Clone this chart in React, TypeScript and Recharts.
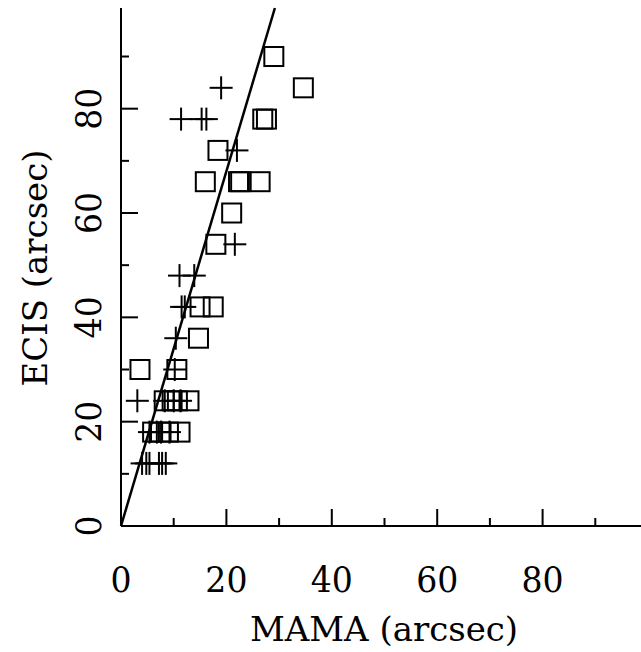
import React from 'react'
import { ScatterChart, Scatter, XAxis, YAxis, ReferenceLine } from 'recharts'

// MAMA vs ECIS offsets (arcsec)
const squareMama = [3.6, 10.6, 8.2, 9.7, 10.7, 12.9, 6.0, 7.5, 9.0, 11.2, 14.7, 15.0, 17.5, 18.0, 21.0, 16.0, 22.3, 22.7, 26.4, 18.4, 26.9, 27.6, 34.6, 29.0]
const squareEcis = [30, 30, 24, 24, 24, 24, 18, 18, 18, 18, 36, 42, 42, 54, 60, 66, 66, 66, 66, 72, 78, 78, 84, 90]

const crossMama = [19.0, 11.4, 15.3, 16.2, 22.0, 21.6, 11.1, 13.9, 11.5, 12.1, 10.4, 10.2, 3.1, 8.3, 10.0, 11.3, 5.4, 6.8, 7.6, 9.2, 4.0, 4.8, 5.4, 7.2, 7.8, 8.5]
const crossEcis = [84, 78, 78, 78, 72, 54, 48, 48, 42, 42, 36, 30, 24, 24, 24, 24, 18, 18, 18, 18, 12, 12, 12, 12, 12, 12]

// fitted line endpoints
const lineMama = [0, 29.2]
const lineEcis = [0, 99.3]

const xTicks = [0, 10, 20, 30, 40, 50, 60, 70, 80, 90, 100]
const yTicks = [0, 10, 20, 30, 40, 50, 60, 70, 80, 90]

const squares = squareMama.map((x, i) => ({ x, y: squareEcis[i] }))
const crosses = crossMama.map((x, i) => ({ x, y: crossEcis[i] }))

const FONT = '"DejaVu Serif", serif'
const MAJOR = 17
const MINOR = 8

const Square = (props: any) => {
  const { cx, cy } = props
  return <rect x={cx - 9.5} y={cy - 9.5} width={19} height={19} fill="none" stroke="#000" strokeWidth={2} />
}

const Cross = (props: any) => {
  const { cx, cy } = props
  return (
    <g stroke="#000" strokeWidth={2}>
      <line x1={cx - 11.5} y1={cy} x2={cx + 11.5} y2={cy} />
      <line x1={cx} y1={cy - 11.5} x2={cx} y2={cy + 11.5} />
    </g>
  )
}

const Txt = ({ x, y, rotate, children }: any) => (
  <text
    transform={`translate(${x},${y})${rotate ? ' rotate(-90)' : ''} scale(0.92,1)`}
    textAnchor="middle"
    dominantBaseline="central"
    fontFamily={FONT}
    fontSize={36}
    fill="#000"
  >
    {children}
  </text>
)

const BottomTick = ({ x, y, payload }: any) => {
  const v = payload.value
  const major = v % 20 === 0
  return (
    <g>
      <line x1={x} y1={y} x2={x} y2={y - (major ? MAJOR : MINOR)} stroke="#000" strokeWidth={2} />
      {major && v < 100 && <Txt x={x} y={y + 54}>{v}</Txt>}
    </g>
  )
}

const TopTick = ({ x, y, payload }: any) => {
  const major = payload.value % 20 === 0
  return <line x1={x} y1={y} x2={x} y2={y + (major ? MAJOR : MINOR)} stroke="#000" strokeWidth={2} />
}

const LeftTick = ({ x, y, payload }: any) => {
  const v = payload.value
  const major = v % 20 === 0
  return (
    <g>
      <line x1={x} y1={y} x2={x + (major ? MAJOR : MINOR)} y2={y} stroke="#000" strokeWidth={2} />
      {major && <Txt x={x - 32} y={y} rotate>{v}</Txt>}
    </g>
  )
}

const RightTick = ({ x, y, payload }: any) => {
  const major = payload.value % 20 === 0
  return <line x1={x} y1={y} x2={x - (major ? MAJOR : MINOR)} y2={y} stroke="#000" strokeWidth={2} />
}

export default function App() {
  return (
    <div style={{ position: 'absolute', left: 0, top: 0, width: 641, height: 652, overflow: 'hidden', background: '#fff' }}>
      <ScatterChart width={660} height={652} margin={{ top: 8, right: 12, bottom: 0, left: 0 }}>
        <XAxis
          xAxisId="b"
          type="number"
          dataKey="x"
          domain={[0, 100]}
          ticks={xTicks}
          interval={0}
          tickSize={0}
          tickMargin={0}
          height={126}
          tick={<BottomTick />}
          axisLine={{ stroke: '#000', strokeWidth: 2 }}
          tickLine={false}
        />
        <XAxis
          xAxisId="t"
          orientation="top"
          type="number"
          dataKey="x"
          domain={[0, 100]}
          ticks={xTicks}
          interval={0}
          tickSize={0}
          tickMargin={0}
          height={0}
          tick={<TopTick />}
          axisLine={{ stroke: '#000', strokeWidth: 2 }}
          tickLine={false}
        />
        <YAxis
          yAxisId="l"
          type="number"
          dataKey="y"
          domain={[0, 99.3]}
          ticks={yTicks}
          interval={0}
          tickSize={0}
          tickMargin={0}
          width={121}
          tick={<LeftTick />}
          axisLine={{ stroke: '#000', strokeWidth: 2 }}
          tickLine={false}
        />
        <YAxis
          yAxisId="r"
          orientation="right"
          type="number"
          dataKey="y"
          domain={[0, 99.3]}
          ticks={yTicks}
          interval={0}
          tickSize={0}
          tickMargin={0}
          width={0}
          tick={<RightTick />}
          axisLine={{ stroke: '#000', strokeWidth: 2 }}
          tickLine={false}
        />
        <ReferenceLine
          xAxisId="b"
          yAxisId="l"
          segment={[{ x: lineMama[0], y: lineEcis[0] }, { x: lineMama[1], y: lineEcis[1] }]}
          stroke="#000"
          strokeWidth={2.5}
          ifOverflow="extendDomain"
        />
        <Scatter xAxisId="b" yAxisId="l" data={squares} shape={<Square />} isAnimationActive={false} />
        <Scatter xAxisId="b" yAxisId="l" data={crosses} shape={<Cross />} isAnimationActive={false} />
        <text
          transform="translate(35,268) rotate(-90)"
          textAnchor="middle"
          dominantBaseline="central"
          fontFamily={FONT}
          fontSize={34}
          fill="#000"
        >
          ECIS (arcsec)
        </text>
        <text x={384} y={641} textAnchor="middle" fontFamily={FONT} fontSize={34} fill="#000">
          MAMA (arcsec)
        </text>
      </ScatterChart>
    </div>
  )
}
